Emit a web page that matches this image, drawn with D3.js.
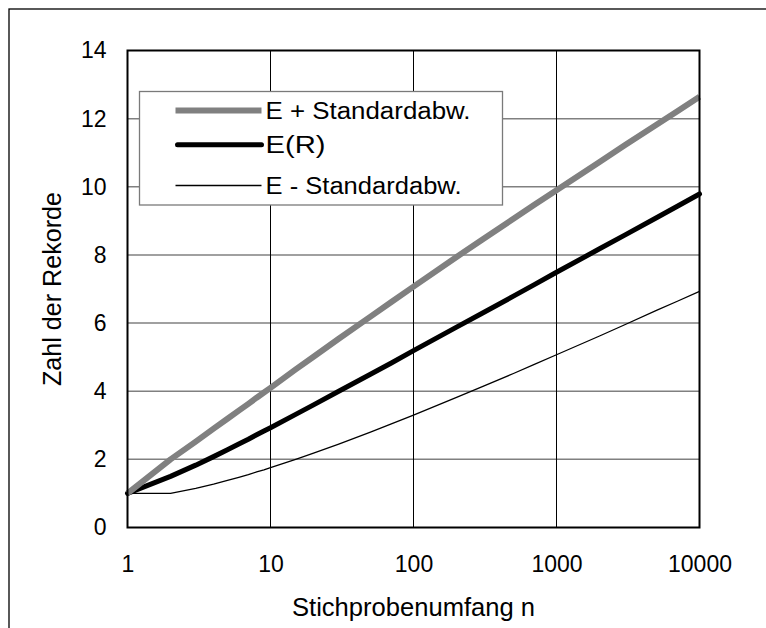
<!DOCTYPE html>
<html>
<head>
<meta charset="utf-8">
<script src="https://cdn.jsdelivr.net/npm/d3@7"></script>
<style>
    body { margin: 0; background: #fff; }
    svg { display: block; font-family: "Liberation Sans", Arial, sans-serif; }
</style>
</head>
<body>
<div class="graph"></div>
<script>
// Values
const sampleSizes = [1, 2, 3, 4, 5, 6, 7, 8, 9, 10, 15, 20, 30, 50, 70,
    100, 200, 300, 500, 700, 1000, 2000, 3000, 5000, 7000, 10000];
const meanRecords = [1.00, 1.50, 1.83, 2.08, 2.28, 2.45, 2.59, 2.72, 2.83, 2.93, 3.32, 3.60, 4.00, 4.50, 4.83,
    5.19, 5.88, 6.28, 6.79, 7.13, 7.49, 8.18, 8.58, 9.09, 9.43, 9.79];
const upperRecords = [1.00, 2.00, 2.52, 2.90, 3.19, 3.43, 3.63, 3.81, 3.96, 4.10, 4.64, 5.01, 5.54, 6.19, 6.62,
    7.07, 7.94, 8.44, 9.06, 9.47, 9.90, 10.73, 11.22, 11.82, 12.22, 12.64];
const lowerRecords = [1.00, 1.00, 1.15, 1.27, 1.38, 1.47, 1.55, 1.63, 1.69, 1.76, 2.00, 2.18, 2.45, 2.80, 3.04,
    3.30, 3.82, 4.13, 4.52, 4.79, 5.07, 5.62, 5.95, 6.37, 6.64, 6.93];
const xTickValues = [1, 10, 100, 1000, 10000];
const yTickValues = [0, 2, 4, 6, 8, 10, 12, 14];
const seriesNames = ["E + Standardabw.", "E(R)", "E - Standardabw."];

function createRecordChart() {
    const dimensions = {
        width: 766,
        height: 628,
        margins: {
            top: 50.5,
            right: 66.5,
            bottom: 100.5,
            left: 127.5
        }
    };
    dimensions.boundedWidth = dimensions.width
        - dimensions.margins.left
        - dimensions.margins.right;
    dimensions.boundedHeight = dimensions.height
        - dimensions.margins.top
        - dimensions.margins.bottom;

    // one entry per drawn line, built from the arrays above
    const series = [
        {name: seriesNames[0], values: upperRecords, color: "#808080", width: 6, cap: "butt"},
        {name: seriesNames[1], values: meanRecords, color: "#000000", width: 5, cap: "round"},
        {name: seriesNames[2], values: lowerRecords, color: "#000000", width: 1.3, cap: "butt"}
    ];

    const xAccessor = (d, i) => sampleSizes[i];

    const wrapper = d3.select(".graph")
        .append("svg")
            .attr("width", dimensions.width)
            .attr("height", dimensions.height);

    // outer frame of the picture
    wrapper.append("rect")
        .attr("x", 9)
        .attr("y", 9)
        .attr("width", 800)
        .attr("height", 700)
        .attr("fill", "none")
        .attr("stroke", "#000")
        .attr("stroke-width", 1.3);

    const bounds = wrapper.append("g")
        .attr("transform", `translate(${dimensions.margins.left},${dimensions.margins.top})`);

    const xScale = d3.scaleLog()
        .domain([1, 10000])
        .range([0, dimensions.boundedWidth]);

    const yScale = d3.scaleLinear()
        .domain([0, 14])
        .range([dimensions.boundedHeight, 0]);

    // gridlines
    bounds.append("g")
        .selectAll("line")
        .data(yTickValues.slice(1, -1))
        .join("line")
            .attr("x1", 0)
            .attr("x2", dimensions.boundedWidth)
            .attr("y1", d => yScale(d))
            .attr("y2", d => yScale(d))
            .attr("stroke", "#808080")
            .attr("stroke-width", 1.5);

    bounds.append("g")
        .selectAll("line")
        .data(xTickValues.slice(1, -1))
        .join("line")
            .attr("x1", d => xScale(d))
            .attr("x2", d => xScale(d))
            .attr("y1", 0)
            .attr("y2", dimensions.boundedHeight)
            .attr("stroke", "#000")
            .attr("stroke-width", 1);

    // legend box (sits under the lines)
    const legend = bounds.append("g")
        .attr("transform", "translate(12, 41)");

    legend.append("rect")
        .attr("width", 363)
        .attr("height", 113.5)
        .attr("fill", "#fff")
        .attr("stroke", "#7a7a7a")
        .attr("stroke-width", 1.3);

    const legendRows = legend.selectAll("g")
        .data(series)
        .join("g")
            .attr("transform", (d, i) => `translate(0,${[19, 53.3, 94][i]})`);

    legendRows.append("line")
        .attr("x1", (d, i) => i === 1 ? 38 : 36)
        .attr("x2", 122)
        .attr("stroke", d => d.color)
        .attr("stroke-width", d => d.width)
        .attr("stroke-linecap", d => d.cap);

    legendRows.append("text")
        .attr("x", 126)
        .attr("y", 0)
        .attr("dy", "0.36em")
        .attr("font-size", 23)
        .attr("fill", "#000")
        .text(d => d.name)
        .attr("textLength", (d, i) => [205, 60, 196][i])
        .attr("lengthAdjust", "spacingAndGlyphs");

    // data lines
    const lineGenerator = d3.line()
        .x((d, i) => xScale(xAccessor(d, i)))
        .y(d => yScale(d));

    bounds.append("g")
        .selectAll("path")
        .data(series.slice().reverse())
        .join("path")
            .attr("d", d => lineGenerator(d.values))
            .attr("fill", "none")
            .attr("stroke", d => d.color)
            .attr("stroke-width", d => d.width)
            .attr("stroke-linejoin", "round")
            .attr("stroke-linecap", d => d.cap);

    // plot frame
    bounds.append("rect")
        .attr("width", dimensions.boundedWidth)
        .attr("height", dimensions.boundedHeight)
        .attr("fill", "none")
        .attr("stroke", "#000")
        .attr("stroke-width", 2);

    // axes
    const xAxisGenerator = d3.axisBottom(xScale)
        .tickValues(xTickValues)
        .tickFormat(d3.format("d"))
        .tickSize(0)
        .tickPadding(28);

    const yAxisGenerator = d3.axisLeft(yScale)
        .tickValues(yTickValues)
        .tickFormat(d3.format("d"))
        .tickSize(0)
        .tickPadding(21);

    const xAxis = bounds.append("g")
        .attr("transform", `translate(0,${dimensions.boundedHeight})`)
        .call(xAxisGenerator);

    const yAxis = bounds.append("g")
        .call(yAxisGenerator);

    [xAxis, yAxis].forEach(axis => {
        axis.select(".domain").remove();
        axis.selectAll("text")
            .attr("font-family", "'Liberation Sans', Arial, sans-serif")
            .attr("font-size", 23)
            .attr("fill", "#000");
    });

    // axis titles
    wrapper.append("text")
        .attr("x", dimensions.margins.left + dimensions.boundedWidth / 2)
        .attr("y", 616)
        .attr("text-anchor", "middle")
        .attr("font-size", 25)
        .attr("textLength", 243)
        .attr("lengthAdjust", "spacingAndGlyphs")
        .text("Stichprobenumfang n");

    wrapper.append("text")
        .attr("transform", `translate(61,${dimensions.margins.top + dimensions.boundedHeight / 2}) rotate(-90)`)
        .attr("text-anchor", "middle")
        .attr("font-size", 25)
        .attr("textLength", 194)
        .attr("lengthAdjust", "spacingAndGlyphs")
        .text("Zahl der Rekorde");
}

createRecordChart();
</script>
</body>
</html>
